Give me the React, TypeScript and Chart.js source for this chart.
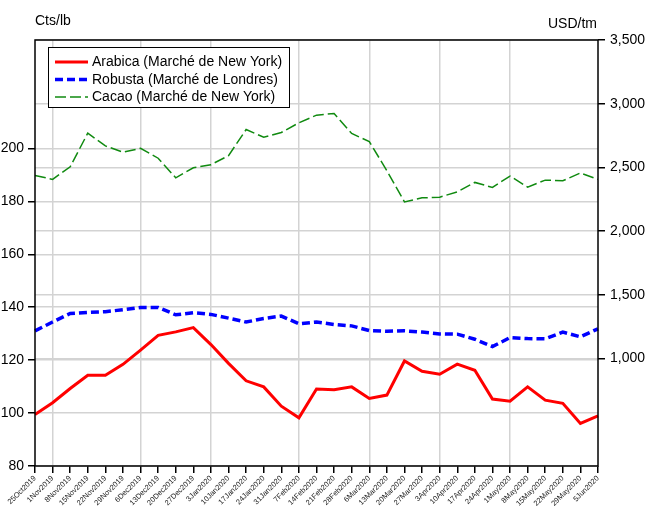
import React, { useEffect, useRef } from "react";
import { Chart, registerables } from "chart.js";

Chart.register(...registerables);

const labels = [
  "25Oct2019", "1Nov2019", "8Nov2019", "15Nov2019", "22Nov2019", "29Nov2019",
  "6Dec2019", "13Dec2019", "20Dec2019", "27Dec2019", "3Jan2020", "10Jan2020",
  "17Jan2020", "24Jan2020", "31Jan2020", "7Feb2020", "14Feb2020", "21Feb2020",
  "28Feb2020", "6Mar2020", "13Mar2020", "20Mar2020", "27Mar2020", "3Apr2020",
  "10Apr2020", "17Apr2020", "24Apr2020", "1May2020", "8May2020", "15May2020",
  "22May2020", "29May2020", "5Jun2020",
];

const arabica = [
  99.5, 103.9, 109.3, 114.3, 114.3, 118.4, 123.8, 129.4, 130.7, 132.3, 125.9,
  118.8, 112.2, 109.9, 102.6, 98.2, 109.1, 108.8, 109.9, 105.5, 106.8, 119.7,
  115.8, 114.7, 118.5, 116.2, 105.3, 104.5, 109.9, 104.9, 103.7, 96.1, 98.9,
];

const robusta = [
  1217, 1286, 1353, 1361, 1367, 1383, 1401, 1401, 1343, 1359, 1346, 1317, 1286,
  1314, 1333, 1272, 1286, 1267, 1256, 1219, 1214, 1217, 1207, 1193, 1191, 1151,
  1093, 1164, 1156, 1154, 1207, 1170, 1233,
];

const cacao = [
  2437, 2406, 2505, 2769, 2669, 2619, 2650, 2572, 2418, 2497, 2521, 2592, 2797,
  2737, 2774, 2850, 2910, 2923, 2766, 2703, 2474, 2229, 2261, 2266, 2308, 2382,
  2343, 2432, 2345, 2400, 2395, 2456, 2406,
];

const seriesNames = [
  "Arabica (Marché de New York)",
  "Robusta (Marché de Londres)",
  "Cacao (Marché de New York)",
];

const leftTicks = [80, 100, 120, 140, 160, 180, 200];
const rightTicks = [1000, 1500, 2000, 2500, 3000, 3500];
const monthGridIdx = [1, 6, 10, 15, 19, 23, 27];
const leftUnit = "Cts/lb";
const rightUnit = "USD/tm";

const FONT = '"Liberation Sans", Arial, sans-serif';
const GRID = "#d3d3d3";

const overlay = {
  id: "overlay",
  afterDraw(chart: any) {
    const { ctx, chartArea: a } = chart;
    ctx.save();
    ctx.strokeStyle = "#000";
    ctx.lineWidth = 1.5;
    ctx.strokeRect(a.left, a.top, a.right - a.left, a.bottom - a.top);

    ctx.fillStyle = "#000";
    ctx.font = `14px ${FONT}`;
    ctx.textBaseline = "middle";
    ctx.textAlign = "left";
    ctx.fillText(leftUnit, a.left, 21);
    ctx.textAlign = "right";
    ctx.fillText(rightUnit, a.right - 1, 24);

    // legend
    const bx = 48, by = 47, bw = 241, bh = 60;
    ctx.fillStyle = "#fff";
    ctx.fillRect(bx, by, bw, bh);
    ctx.strokeStyle = "#000";
    ctx.lineWidth = 1;
    ctx.strokeRect(bx + 0.5, by + 0.5, bw, bh);
    const rows = [62, 79.5, 97];
    chart.data.datasets.forEach((ds: any, i: number) => {
      const y = rows[i];
      ctx.save();
      ctx.strokeStyle = ds.borderColor;
      ctx.lineWidth = ds.borderWidth;
      ctx.setLineDash(ds.borderDash || []);
      ctx.beginPath();
      ctx.moveTo(55, y);
      ctx.lineTo(88, y);
      ctx.stroke();
      ctx.restore();
      ctx.fillStyle = "#000";
      ctx.font = `14px ${FONT}`;
      ctx.textAlign = "left";
      ctx.textBaseline = "middle";
      ctx.fillText(ds.label, 92, y + 0.5);
    });
    ctx.restore();
  },
};

export default function App() {
  const ref = useRef<HTMLCanvasElement | null>(null);

  useEffect(() => {
    if (!ref.current) return;
    const chart = new Chart(ref.current, {
      type: "line",
      data: {
        labels,
        datasets: [
          {
            label: seriesNames[0],
            data: arabica,
            yAxisID: "y",
            borderColor: "#ff0000",
            borderWidth: 3,
            pointRadius: 0,
            tension: 0,
          },
          {
            label: seriesNames[1],
            data: robusta,
            yAxisID: "y1",
            borderColor: "#0000ff",
            borderWidth: 3.5,
            borderDash: [8, 4],
            pointRadius: 0,
            tension: 0,
          },
          {
            label: seriesNames[2],
            data: cacao,
            yAxisID: "y1",
            borderColor: "#108a10",
            borderWidth: 1.5,
            borderDash: [11, 4],
            pointRadius: 0,
            tension: 0,
          },
        ],
      },
      options: {
        animation: false,
        responsive: false,
        devicePixelRatio: 1,
        layout: { padding: { top: 40, left: 0, right: 0, bottom: 0 } },
        plugins: {
          legend: { display: false },
          tooltip: { enabled: false },
        },
        scales: {
          x: {
            type: "category",
            offset: false,
            border: { display: false },
            grid: {
              color: (c: any) =>
                monthGridIdx.includes(c.index) ? GRID : "rgba(0,0,0,0)",
              lineWidth: 1.5,
              tickColor: "#000",
              tickLength: 7,
              drawOnChartArea: true,
            },
            ticks: {
              autoSkip: false,
              minRotation: 45,
              maxRotation: 45,
              padding: 1,
              color: "#222",
              font: { family: FONT, size: 7.5 },
            },
            afterFit: (s: any) => {
              s.height = 45;
            },
          },
          y: {
            position: "left",
            min: 80,
            max: 241,
            border: { display: false },
            afterBuildTicks: (s: any) => {
              s.ticks = leftTicks.map((v) => ({ value: v }));
            },
            grid: {
              color: GRID,
              lineWidth: 1.5,
              tickColor: "#000",
              tickLength: 7,
            },
            ticks: {
              autoSkip: false,
              padding: 4,
              color: "#000",
              font: { family: FONT, size: 14 },
            },
            afterFit: (s: any) => {
              s.width = 35;
            },
          },
          y1: {
            position: "right",
            min: 156,
            max: 3500,
            border: { display: false },
            afterBuildTicks: (s: any) => {
              s.ticks = rightTicks.map((v) => ({ value: v }));
            },
            grid: {
              color: GRID,
              lineWidth: 1.5,
              tickColor: "#000",
              tickLength: 7,
            },
            ticks: {
              autoSkip: false,
              padding: 5,
              color: "#000",
              font: { family: FONT, size: 14 },
              callback: (v: any) => Number(v).toLocaleString("en-US"),
            },
            afterFit: (s: any) => {
              s.width = 48;
            },
          },
        },
      },
      plugins: [overlay],
    } as any);
    return () => chart.destroy();
  }, []);

  return (
    <div style={{ position: "absolute", left: 0, top: 0, width: 646, height: 511, background: "#fff" }}>
      <canvas ref={ref} width={646} height={511} style={{ width: 646, height: 511, display: "block" }} />
    </div>
  );
}
